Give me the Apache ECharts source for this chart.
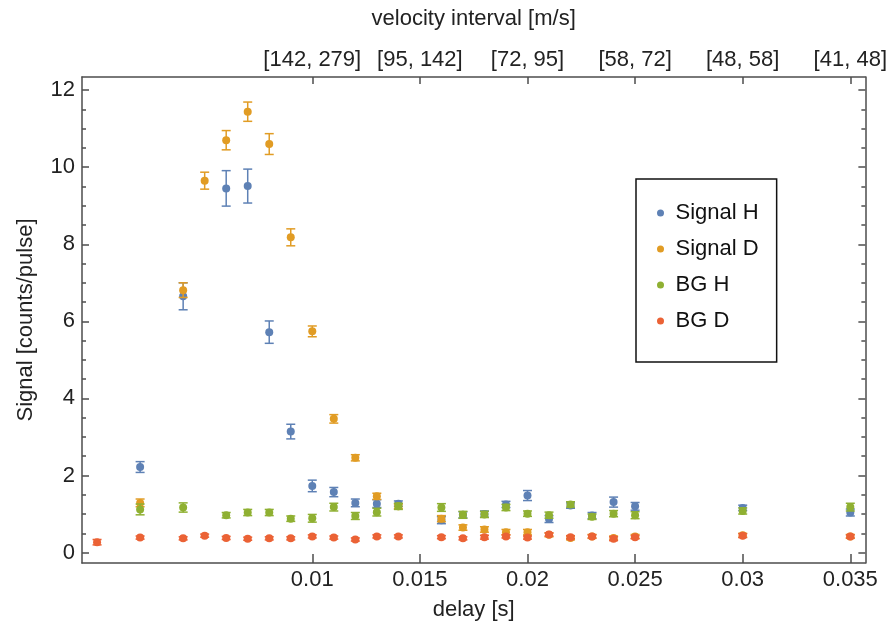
<!DOCTYPE html>
<html>
<head>
<meta charset="utf-8">
<script src="https://cdn.jsdelivr.net/npm/echarts@6/dist/echarts.min.js"></script>
<style>
  html, body { margin: 0; padding: 0; background: #fff; }
  #chart { width: 890px; height: 630px; }
</style>
</head>
<body>
<div id="chart"></div>
<script>
// tick positions (delay, s) and the velocity label shown above each one
var delayTicks = [0.01, 0.015, 0.02, 0.025, 0.03, 0.035];
var velocityLabels = ['[142, 279]', '[95, 142]', '[72, 95]', '[58, 72]', '[48, 58]', '[41, 48]'];
var signalTicks = [0, 2, 4, 6, 8, 10, 12];
var signalMinorTicks = [0.5, 1, 1.5, 2.5, 3, 3.5, 4.5, 5, 5.5, 6.5, 7, 7.5, 8.5, 9, 9.5, 10.5, 11, 11.5];

// Signal H
var delayH = [0.002, 0.004, 0.006, 0.007, 0.008, 0.009, 0.010, 0.011, 0.012, 0.013, 0.014, 0.016, 0.017, 0.018, 0.019, 0.020, 0.021, 0.022, 0.023, 0.024, 0.025, 0.030, 0.035];
var signalH = [2.22, 6.65, 9.45, 9.51, 5.72, 3.14, 1.73, 1.57, 1.29, 1.27, 1.27, 0.84, 0.98, 1.00, 1.25, 1.48, 0.87, 1.22, 0.96, 1.31, 1.20, 1.16, 1.04];
var signalHErr = [0.14, 0.35, 0.46, 0.44, 0.29, 0.19, 0.15, 0.12, 0.10, 0.10, 0.07, 0.09, 0.08, 0.08, 0.08, 0.13, 0.09, 0.07, 0.08, 0.13, 0.10, 0.07, 0.09];

// Signal D
var delayD = [0.002, 0.004, 0.005, 0.006, 0.007, 0.008, 0.009, 0.010, 0.011, 0.012, 0.013, 0.014, 0.016, 0.017, 0.018, 0.019, 0.020, 0.021, 0.022, 0.023, 0.024, 0.025, 0.030, 0.035];
var signalD = [1.29, 6.81, 9.65, 10.70, 11.44, 10.60, 8.18, 5.74, 3.47, 2.46, 1.46, 1.20, 0.88, 0.65, 0.60, 0.53, 0.53, 0.46, 0.38, 0.42, 0.38, 0.42, 0.45, 0.42];
var signalDErr = [0.10, 0.19, 0.22, 0.25, 0.25, 0.27, 0.22, 0.14, 0.11, 0.08, 0.08, 0.06, 0.08, 0.07, 0.07, 0.07, 0.07, 0.05, 0.05, 0.05, 0.05, 0.05, 0.05, 0.05];

// BG H
var delayBgH = [0.002, 0.004, 0.006, 0.007, 0.008, 0.009, 0.010, 0.011, 0.012, 0.013, 0.014, 0.016, 0.017, 0.018, 0.019, 0.020, 0.021, 0.022, 0.023, 0.024, 0.025, 0.030, 0.035];
var bgH = [1.12, 1.17, 0.97, 1.04, 1.04, 0.88, 0.89, 1.18, 0.95, 1.05, 1.20, 1.17, 0.98, 0.99, 1.17, 1.01, 0.97, 1.25, 0.93, 1.01, 0.97, 1.08, 1.18];
var bgHErr = [0.14, 0.12, 0.07, 0.08, 0.08, 0.07, 0.10, 0.10, 0.09, 0.10, 0.08, 0.10, 0.09, 0.08, 0.08, 0.07, 0.08, 0.07, 0.07, 0.08, 0.09, 0.08, 0.10];

// BG D
var delayBgD = [0, 0.002, 0.004, 0.005, 0.006, 0.007, 0.008, 0.009, 0.010, 0.011, 0.012, 0.013, 0.014, 0.016, 0.017, 0.018, 0.019, 0.020, 0.021, 0.022, 0.023, 0.024, 0.025, 0.030, 0.035];
var bgD = [0.27, 0.39, 0.37, 0.44, 0.38, 0.36, 0.37, 0.37, 0.42, 0.39, 0.34, 0.42, 0.42, 0.40, 0.37, 0.40, 0.42, 0.39, 0.47, 0.40, 0.42, 0.36, 0.40, 0.44, 0.42];
var bgDErr = [0.07, 0.04, 0.04, 0.04, 0.04, 0.04, 0.04, 0.04, 0.04, 0.04, 0.04, 0.04, 0.04, 0.04, 0.04, 0.05, 0.04, 0.04, 0.04, 0.04, 0.04, 0.05, 0.04, 0.05, 0.04];

var colors = ['#5e81b5', '#e19c24', '#8fb032', '#eb6235'];
var frameColor = '#4d4d4d';
var font = 'Liberation Sans, Arial, sans-serif';

function rows(xs, ys, es) {
	var out = [];
	for (var i = 0; i < xs.length; i++) {
		out.push([xs[i], ys[i], ys[i] - es[i], ys[i] + es[i]]);
	}
	return out;
}

function errorBar(color) {
	return function (params, api) {
		var x = api.value(0);
		var lo = api.coord([x, api.value(2)]);
		var hi = api.coord([x, api.value(3)]);
		var w = 4.5;
		var st = { stroke: color, lineWidth: 1.5 };
		return {
			type: 'group',
			children: [
				{ type: 'line', shape: { x1: lo[0], y1: lo[1], x2: hi[0], y2: hi[1] }, style: st },
				{ type: 'line', shape: { x1: lo[0] - w, y1: lo[1], x2: lo[0] + w, y2: lo[1] }, style: st },
				{ type: 'line', shape: { x1: hi[0] - w, y1: hi[1], x2: hi[0] + w, y2: hi[1] }, style: st }
			]
		};
	};
}

var sets = [
	{ name: 'Signal H', data: rows(delayH, signalH, signalHErr) },
	{ name: 'Signal D', data: rows(delayD, signalD, signalDErr) },
	{ name: 'BG H', data: rows(delayBgH, bgH, bgHErr) },
	{ name: 'BG D', data: rows(delayBgD, bgD, bgDErr) }
];

var series = [];
for (var i = 0; i < sets.length; i++) {
	series.push({
		type: 'custom',
		name: sets[i].name + ' err',
		renderItem: errorBar(colors[i]),
		data: sets[i].data,
		encode: { x: 0, y: [2, 3] },
		z: 2 + i * 2,
		silent: true
	});
	series.push({
		type: 'scatter',
		name: sets[i].name,
		data: sets[i].data,
		encode: { x: 0, y: 1 },
		symbolSize: 8,
		itemStyle: { color: colors[i], opacity: 1 },
		z: 3 + i * 2
	});
}

var xMin = -0.0007, xMax = 0.0357;
var yMin = -0.27, yMax = 12.34;
var lineSt = { color: frameColor, width: 1.5 };
var txt = { fontFamily: font, fontSize: 22, color: '#222' };

var option = {
	animation: false,
	color: colors,
	grid: { left: 82, right: 24, top: 77, bottom: 67 },
	legend: {
		data: ['Signal H', 'Signal D', 'BG H', 'BG D'],
		orient: 'vertical',
		left: 636,
		top: 179,
		icon: 'circle',
		itemWidth: 20,
		itemHeight: 7,
		itemGap: 12,
		padding: [22, 18, 29, 21],
		borderColor: '#111',
		borderWidth: 1.5,
		textStyle: { fontFamily: font, fontSize: 22, color: '#111', lineHeight: 24 }
	},
	xAxis: [
		{
			type: 'value', position: 'bottom', min: xMin, max: xMax,
			name: 'delay [s]', nameLocation: 'middle', nameGap: 36, nameMoveOverlap: false,
			nameTextStyle: txt,
			axisLine: { show: true, onZero: false, lineStyle: lineSt },
			axisTick: { show: true, inside: true, length: 9, customValues: delayTicks, lineStyle: lineSt },
			axisLabel: {
				customValues: delayTicks, margin: 6, fontFamily: font, fontSize: 22, color: '#222',
				formatter: function (v) { return String(+v.toFixed(3)); }
			},
			splitLine: { show: false }
		},
		{
			type: 'value', position: 'top', min: xMin, max: xMax,
			name: 'velocity interval [m/s]', nameLocation: 'middle', nameGap: 47, nameMoveOverlap: false,
			nameTextStyle: txt,
			axisLine: { show: true, onZero: false, lineStyle: lineSt },
			axisTick: { show: true, inside: true, length: 7, customValues: delayTicks, lineStyle: lineSt },
			axisLabel: {
				customValues: delayTicks, margin: 6, fontFamily: font, fontSize: 22, color: '#222',
				formatter: function (v) {
					for (var k = 0; k < delayTicks.length; k++) {
						if (Math.abs(delayTicks[k] - v) < 1e-6) return velocityLabels[k];
					}
					return '';
				}
			},
			splitLine: { show: false }
		}
	],
	yAxis: [
		{
			type: 'value', position: 'left', min: yMin, max: yMax,
			name: 'Signal [counts/pulse]', nameLocation: 'middle', nameGap: 45, nameMoveOverlap: false,
			nameTextStyle: txt,
			axisLine: { show: true, onZero: false, lineStyle: lineSt },
			axisTick: { show: true, inside: true, length: 7, customValues: signalTicks, lineStyle: lineSt },
			axisLabel: { customValues: signalTicks, margin: 7, fontFamily: font, fontSize: 22, color: '#222' },
			splitLine: { show: false }
		},
		{
			type: 'value', position: 'left', min: yMin, max: yMax,
			axisLine: { show: false, onZero: false },
			axisTick: { show: true, inside: true, length: 4, customValues: signalMinorTicks, lineStyle: lineSt },
			axisLabel: { show: false },
			splitLine: { show: false }
		},
		{
			type: 'value', position: 'right', min: yMin, max: yMax,
			axisLine: { show: true, onZero: false, lineStyle: lineSt },
			axisTick: { show: true, inside: true, length: 7, customValues: signalTicks, lineStyle: lineSt },
			axisLabel: { show: false },
			splitLine: { show: false }
		},
		{
			type: 'value', position: 'right', min: yMin, max: yMax,
			axisLine: { show: false, onZero: false },
			axisTick: { show: true, inside: true, length: 4, customValues: signalMinorTicks, lineStyle: lineSt },
			axisLabel: { show: false },
			splitLine: { show: false }
		}
	],
	series: series
};

var chart = echarts.init(document.getElementById('chart'));
chart.setOption(option);
</script>
</body>
</html>
